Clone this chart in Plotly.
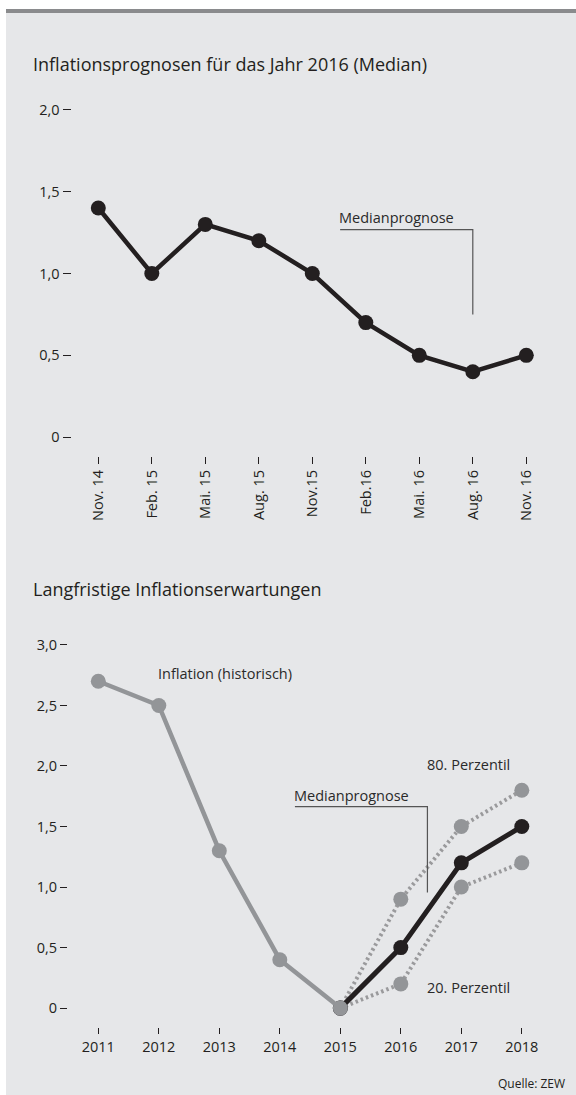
import plotly.graph_objects as go

W, H = 576, 1095

# ---- data ----
top_labels = ["Nov. 14", "Feb. 15", "Mai. 15", "Aug. 15", "Nov.15", "Feb.16", "Mai. 16", "Aug. 16", "Nov. 16"]
top_median = [1.4, 1.0, 1.3, 1.2, 1.0, 0.7, 0.5, 0.4, 0.5]
top_yticks = [0, 0.5, 1.0, 1.5, 2.0]
top_yticktext = ["0", "0,5", "1,0", "1,5", "2,0"]

years = ["2011", "2012", "2013", "2014", "2015", "2016", "2017", "2018"]
hist_years = ["2011", "2012", "2013", "2014", "2015"]
hist_values = [2.7, 2.5, 1.3, 0.4, 0.0]
fc_years = ["2015", "2016", "2017", "2018"]
fc_median = [0.0, 0.5, 1.2, 1.5]
fc_p80 = [0.0, 0.9, 1.5, 1.8]
fc_p20 = [0.0, 0.2, 1.0, 1.2]
bot_yticks = [0, 0.5, 1.0, 1.5, 2.0, 2.5, 3.0]
bot_yticktext = ["0", "0,5", "1,0", "1,5", "2,0", "2,5", "3,0"]

BLACK = "#231f20"
GRAY = "#939598"
BG = "#e6e7e9"
FONT = "Open Sans"

def px(x):
    return x / W

def py(y):
    return (H - y) / H

fig = go.Figure()

# top chart
fig.add_trace(go.Scatter(x=list(range(len(top_labels))), y=top_median, mode="lines+markers",
                         line=dict(color=BLACK, width=4.5), marker=dict(color=BLACK, size=15),
                         xaxis="x", yaxis="y", showlegend=False, hoverinfo="skip"))

yr_idx = {y: i for i, y in enumerate(years)}
def idx(lst):
    return [yr_idx[v] for v in lst]

fig.add_trace(go.Scatter(x=idx(fc_years), y=fc_p80, mode="lines+markers",
                         line=dict(color="#9a9a9c", width=4, dash="2.5px,3px"),
                         marker=dict(color=GRAY, size=15),
                         xaxis="x2", yaxis="y2", showlegend=False, hoverinfo="skip"))
fig.add_trace(go.Scatter(x=idx(fc_years), y=fc_p20, mode="lines+markers",
                         line=dict(color="#9a9a9c", width=4, dash="2.5px,3px"),
                         marker=dict(color=GRAY, size=15),
                         xaxis="x2", yaxis="y2", showlegend=False, hoverinfo="skip"))
fig.add_trace(go.Scatter(x=idx(fc_years), y=fc_median, mode="lines+markers",
                         line=dict(color=BLACK, width=5), marker=dict(color=BLACK, size=15),
                         xaxis="x2", yaxis="y2", showlegend=False, hoverinfo="skip"))
fig.add_trace(go.Scatter(x=idx(hist_years), y=hist_values, mode="lines+markers",
                         line=dict(color=GRAY, width=4.5), marker=dict(color=GRAY, size=15),
                         xaxis="x2", yaxis="y2", showlegend=False, hoverinfo="skip"))

tickfont = dict(family=FONT, size=14.5, color=BLACK)

# top axes geometry
t_x0 = 98.3 - 53.5 * 0.5
t_x1 = 98.3 + 53.5 * 8.5
fig.update_layout(
    xaxis=dict(domain=[px(t_x0), px(t_x1)], range=[-0.5, 8.5], tickmode="array",
               tickvals=list(range(len(top_labels))), ticktext=top_labels, tickangle=-90,
               ticks="outside", ticklen=7, tickwidth=1.3, tickcolor=BLACK, showline=False,
               showgrid=False, zeroline=False, tickfont=tickfont, anchor="y", fixedrange=True),
    yaxis=dict(domain=[py(455), py(436 - 2.05 * 164)], range=[-0.116, 2.05], tickmode="array",
               tickvals=top_yticks, ticktext=top_yticktext, ticks="outside", ticklen=8,
               tickwidth=1.3, tickcolor=BLACK, showline=False, showgrid=False, zeroline=False,
               tickfont=tickfont, anchor="x", ticklabelstandoff=0, fixedrange=True),
)

b_x0 = 98.3 - 60.5 * 0.5
b_x1 = 98.3 + 60.5 * 7.5
fig.update_layout(
    xaxis2=dict(domain=[px(b_x0), px(b_x1)], range=[-0.5, 7.5], tickmode="array",
                tickvals=list(range(len(years))), ticktext=years,
                ticks="outside", ticklen=6, tickwidth=1.3, tickcolor=BLACK, showline=False,
                showgrid=False, zeroline=False, tickfont=tickfont, anchor="y2", fixedrange=True),
    yaxis2=dict(domain=[py(1027), py(1008 - 3.1 * 121.3)], range=[-0.157, 3.1], tickmode="array",
                tickvals=bot_yticks, ticktext=bot_yticktext, ticks="outside", ticklen=7,
                tickwidth=1.3, tickcolor=BLACK, showline=False, showgrid=False, zeroline=False,
                tickfont=tickfont, anchor="x2", ticklabelstandoff=0, fixedrange=True),
)

shapes = [
    dict(type="rect", xref="paper", yref="paper", x0=px(6), x1=1, y0=0, y1=py(7),
         fillcolor=BG, line=dict(width=0), layer="below"),
    dict(type="rect", xref="paper", yref="paper", x0=px(6), x1=1, y0=py(11), y1=py(7),
         fillcolor="#8a8b8d", line=dict(width=0), layer="below"),
    # top leader line
    dict(type="path", xref="x", yref="y", path="M 4.52,1.268 L 7,1.268 L 7,0.75",
         line=dict(color="#555555", width=1.2)),
    # bottom leader line
    dict(type="path", xref="x2", yref="y2", path="M 3.25,1.665 L 5.44,1.665 L 5.44,0.956",
         line=dict(color="#555555", width=1.2)),
]

annfont = dict(family=FONT, size=14.5, color="#2a2a2a")
annotations = [
    dict(text="Inflationsprognosen für das Jahr 2016 (Median)", xref="paper", yref="paper",
         x=px(31), y=py(62), xanchor="left", yanchor="middle", showarrow=False,
         font=dict(family=FONT, size=18, color=BLACK)),
    dict(text="Langfristige Inflationserwartungen", xref="paper", yref="paper",
         x=px(31), y=py(588), xanchor="left", yanchor="middle", showarrow=False,
         font=dict(family=FONT, size=18, color=BLACK)),
    dict(text="Medianprognose", xref="x", yref="y", x=4.52, y=1.34, xanchor="left",
         yanchor="middle", showarrow=False, font=annfont, xshift=-3),
    dict(text="Inflation (historisch)", xref="x2", yref="y2", x=1.0, y=2.76, xanchor="left",
         yanchor="middle", showarrow=False, font=annfont, xshift=-3),
    dict(text="80. Perzentil", xref="x2", yref="y2", x=5.45, y=2.01, xanchor="left",
         yanchor="middle", showarrow=False, font=annfont, xshift=-3),
    dict(text="Medianprognose", xref="x2", yref="y2", x=3.25, y=1.76, xanchor="left",
         yanchor="middle", showarrow=False, font=annfont, xshift=-3),
    dict(text="20. Perzentil", xref="x2", yref="y2", x=5.45, y=0.173, xanchor="left",
         yanchor="middle", showarrow=False, font=annfont, xshift=-3),
    dict(text="Quelle: ZEW", xref="paper", yref="paper", x=px(567), y=py(1083),
         xanchor="right", yanchor="middle", showarrow=False,
         font=dict(family=FONT, size=12, color=BLACK)),
]

fig.update_layout(width=W, height=H, margin=dict(l=0, r=0, t=0, b=0),
                  paper_bgcolor="white", plot_bgcolor="rgba(0,0,0,0)",
                  shapes=shapes, annotations=annotations, showlegend=False,
                  font=dict(family=FONT, color=BLACK))

fig.write_html("out.html", config={"displayModeBar": False},
               post_script="document.body.style.margin='0';document.body.style.overflow='hidden';")
